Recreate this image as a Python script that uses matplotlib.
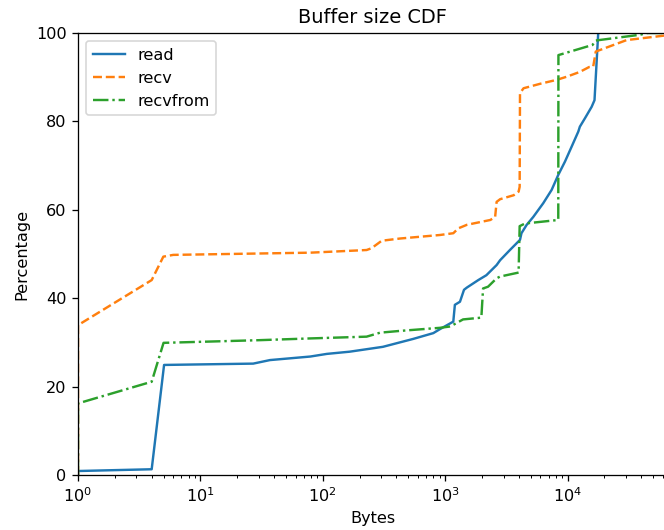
import matplotlib
matplotlib.use("Agg")
import matplotlib.pyplot as plt

read_x = [1, 1, 4, 5.05, 27, 37, 79, 108, 166, 310, 550, 800, 906, 1165, 1200,
          1321, 1425, 1503, 1864, 2170, 2632, 2812, 3380, 4086, 4200, 4634,
          5250, 6330, 7410, 8395, 9520, 10800, 12240, 12600, 13860, 15730,
          16600, 17800]
read_y = [0, 0.9, 1.3, 24.9, 25.2, 26.0, 26.8, 27.4, 27.9, 29.0, 30.8, 32.1,
          33.0, 34.7, 38.5, 39.2, 41.9, 42.4, 44.1, 45.2, 47.5, 48.6, 50.9,
          53.2, 54.7, 56.6, 58.4, 61.5, 64.5, 67.9, 70.9, 74.3, 77.7, 78.8,
          80.7, 83.3, 84.8, 100]

recv_x = [1, 1, 4, 4.98, 6, 79, 228, 250, 303, 427, 906, 1165, 1280, 1503,
          2340, 2560, 2632, 2812, 3630, 3980, 4060, 4086, 4370, 5950, 8150,
          9820, 12600, 15000, 16200, 17000, 30400, 65536]
recv_y = [0, 33.9, 44.1, 49.4, 49.8, 50.3, 50.9, 51.3, 53.0, 53.5, 54.3, 54.7,
          55.8, 56.6, 57.7, 58.4, 61.8, 62.4, 63.3, 64.1, 65.2, 86.4, 87.5,
          88.5, 89.4, 90.1, 91.2, 92.3, 92.4, 95.8, 98.4, 99.5]

recvfrom_x = [1, 1, 4, 5, 30, 79, 228, 294, 427, 906, 1100, 1400, 1975, 2040,
              2240, 2632, 2812, 3980, 4060, 4490, 8395, 8420, 16000, 17000,
              39000, 45000, 65536]
recvfrom_y = [0, 16.2, 21.1, 29.9, 30.5, 30.9, 31.3, 32.2, 32.6, 33.3, 33.6,
              35.2, 35.6, 42.2, 42.6, 44.5, 44.9, 45.8, 56.3, 56.9, 57.7, 95.0,
              97.3, 98.3, 99.6, 100, 100]

dpi = 116
fig = plt.figure(figsize=(664 / dpi, 530 / dpi), dpi=dpi)
ax = fig.add_axes([78 / 664, 55 / 530, 589.5 / 664, 442 / 530])

ax.plot(read_x, read_y, '-', color='C0', label='read')
ax.plot(recv_x, recv_y, '--', color='C1', label='recv')
ax.plot(recvfrom_x, recvfrom_y, '-.', color='C2', label='recvfrom')

ax.set_xscale('log')
ax.set_xlim(1, 65536)
ax.set_ylim(0, 100)
ax.set_title('Buffer size CDF')
ax.set_xlabel('Bytes')
ax.set_ylabel('Percentage')
ax.legend(loc='upper left')

fig.savefig('out.png', dpi=dpi)
